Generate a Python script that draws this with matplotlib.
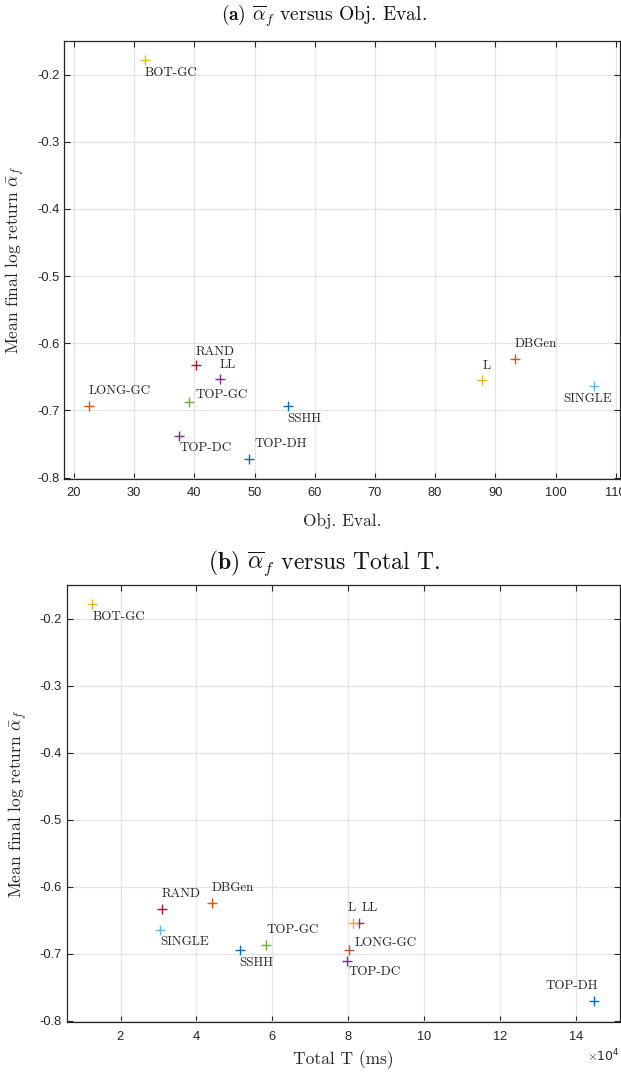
import matplotlib
matplotlib.use("Agg")
import matplotlib.pyplot as plt
from matplotlib.ticker import ScalarFormatter, MultipleLocator

plt.rcParams['mathtext.fontset'] = 'cm'
plt.rcParams['axes.unicode_minus'] = False

# ---- data ----
methods = ["BOT-GC", "RAND", "LL", "TOP-GC", "LONG-GC", "SSHH",
           "TOP-DC", "TOP-DH", "L", "DBGen", "SINGLE"]
colors = ["#EDB120", "#A2142F", "#7E2F8E", "#77AC30", "#D95319", "#0072BD",
          "#7E2F8E", "#0072BD", "#EDB120", "#D95319", "#4DBEEE"]

obj_eval = [31.8, 40.2, 44.2, 39.1, 22.5, 55.5, 37.4, 49.0, 87.8, 93.2, 106.4]
alpha_a = [-0.178, -0.633, -0.653, -0.687, -0.693, -0.693, -0.738, -0.772,
           -0.654, -0.624, -0.664]

total_t = [12400, 30900, 82800, 58200, 80200, 51400, 79700, 144800,
           81200, 44000, 30300]
alpha_b = [-0.179, -0.633, -0.654, -0.687, -0.694, -0.694, -0.711, -0.771,
           -0.654, -0.624, -0.665]

y_ticks = [-0.8, -0.7, -0.6, -0.5, -0.4, -0.3, -0.2]
y_ticklabels = ['-0.8', '-0.7', '-0.6', '-0.5', '-0.4', '-0.3', '-0.2']
t_ticks = [20000, 40000, 60000, 80000, 100000, 120000, 140000]

# label offsets (pixels) and alignment
offs_a = {"BOT-GC": (0, -13, 'left'), "RAND": (0, 14, 'left'), "LL": (0, 14, 'left'),
          "TOP-GC": (7, 7, 'left'), "LONG-GC": (0, 15, 'left'), "SSHH": (0, -13, 'left'),
          "TOP-DC": (1, -12, 'left'), "TOP-DH": (6, 15, 'left'), "L": (0, 14, 'left'),
          "DBGen": (0, 15, 'left'), "SINGLE": (18, -13, 'right')}
offs_b = {"BOT-GC": (1, -13, 'left'), "RAND": (0, 15, 'left'), "LL": (3, 15, 'left'),
          "TOP-GC": (1, 15, 'left'), "LONG-GC": (6, 7, 'left'), "SSHH": (0, -13, 'left'),
          "TOP-DC": (1, -11, 'left'), "TOP-DH": (4, 15, 'right'), "L": (-5, 15, 'left'),
          "DBGen": (0, 15, 'left'), "SINGLE": (1, -12, 'left')}

W, H = 621, 1072
fig = plt.figure(figsize=(W / 100, H / 100), dpi=100)

serif = 'cmr10'
tick_font = 'Liberation Sans'


def style_axes(ax):
    ax.grid(True, color='#e3e3e3', linewidth=0.9)
    ax.set_axisbelow(True)
    for s in ax.spines.values():
        s.set_color('#262626')
        s.set_linewidth(0.9)
    ax.tick_params(direction='in', top=True, right=True, length=4,
                   width=0.8, color='#262626', labelsize=9.3,
                   labelcolor='#262626')
    ax.tick_params(axis='x', pad=6.0)
    for lab in ax.get_xticklabels() + ax.get_yticklabels():
        lab.set_fontfamily(tick_font)


def draw(ax, xs, ys, offs):
    for m, c, x, y in zip(methods, colors, xs, ys):
        ax.plot([x], [y], marker='+', linestyle='none', color=c,
                markersize=6.5, markeredgewidth=1.0)
        dx, dy, ha = offs[m]
        ax.annotate(m, (x, y), xytext=(dx, dy), textcoords='offset pixels',
                    ha=ha, va='center', fontsize=9.4, family=serif,
                    color='#262626')


# ---- panel (a) ----
ax1 = fig.add_axes([64.3 / W, 1 - 479 / H, (620 - 64.3) / W, (479 - 41) / H])
draw(ax1, obj_eval, alpha_a, offs_a)
ax1.set_xlim(18.4, 110.7)
ax1.set_ylim(-0.802, -0.15)
ax1.xaxis.set_major_locator(MultipleLocator(10))
ax1.set_yticks(y_ticks)
ax1.set_yticklabels(y_ticklabels)
style_axes(ax1)
ax1.set_xlabel('Obj. Eval.', fontsize=12.5, family=serif, color='#262626', labelpad=10)
ax1.set_ylabel(r'Mean final log return $\bar{\alpha}_f$', fontsize=12.5,
               family=serif, color='#262626', labelpad=7)
fig.text(324 / W, 1 - 16 / H, r'$\mathbf{(a)}$ $\overline{\alpha}_f$ versus Obj. Eval.',
         ha='center', va='center', fontsize=14, family=serif, color='#111111')

# ---- panel (b) ----
ax2 = fig.add_axes([66.7 / W, 1 - 1022 / H, (620 - 66.7) / W, (1022 - 585) / H])
draw(ax2, total_t, alpha_b, offs_b)
ax2.set_xlim(5800, 151600)
ax2.set_ylim(-0.802, -0.15)
ax2.set_xticks(t_ticks)
ax2.set_yticks(y_ticks)
ax2.set_yticklabels(y_ticklabels)
fmt = ScalarFormatter(useMathText=True)
fmt.set_powerlimits((4, 4))
ax2.xaxis.set_major_formatter(fmt)
style_axes(ax2)
ax2.xaxis.get_offset_text().set_fontsize(9)
ax2.xaxis.get_offset_text().set_color('#262626')
ax2.set_xlabel('Total T (ms)', fontsize=12.5, family=serif, color='#262626', labelpad=5)
ax2.set_ylabel(r'Mean final log return $\bar{\alpha}_f$', fontsize=12.5,
               family=serif, color='#262626', labelpad=7)
fig.text(324 / W, 1 - 563 / H, r'$\mathbf{(b)}$ $\overline{\alpha}_f$ versus Total T.',
         ha='center', va='center', fontsize=17, family=serif, color='#111111')

fig.savefig('out.png', dpi=100)
